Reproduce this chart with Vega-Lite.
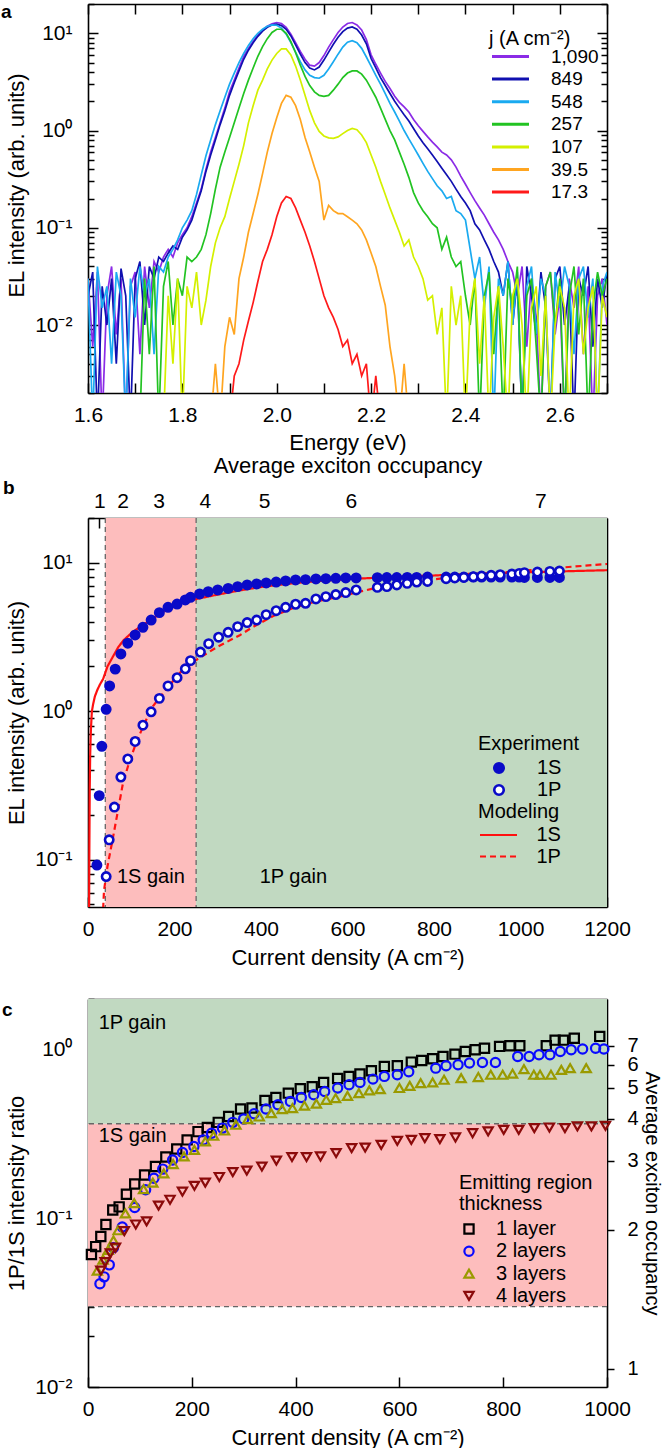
{
"$schema": "https://vega.github.io/schema/vega-lite/v6.json",
"padding": {"left": 1, "top": 2, "right": 4, "bottom": 0},
"background": "white",
"config": {
 "font": "Liberation Sans, Arial, sans-serif",
 "view": {"stroke": null},
 "axis": {"labelFont": "Liberation Sans, Arial, sans-serif", "titleFont": "Liberation Sans, Arial, sans-serif", "labelFontSize": 21, "titleFontSize": 22, "titleFontWeight": "normal", "labelColor": "#000", "titleColor": "#000", "tickColor": "#000", "domainColor": "#000", "domainWidth": 1.6, "tickWidth": 1.5, "grid": false, "zindex": 1, "labelOverlap": false, "labelFlush": false},
 "legend": {"labelFont": "Liberation Sans, Arial, sans-serif", "titleFont": "Liberation Sans, Arial, sans-serif", "labelFontSize": 19, "titleFontSize": 20, "titleFontWeight": "normal", "labelColor": "#000", "titleColor": "#000", "padding": 0}
},
"bounds": "flush",
"spacing": 125,
"resolve": {"scale": {"color": "independent", "fill": "independent", "shape": "independent", "strokeDash": "independent", "x": "independent", "y": "independent"}},
"vconcat": [
{
 "width": 519, "height": 389,
 "title": {"text": "a", "anchor": "start", "frame": "group", "orient": "top", "offset": 0, "fontSize": 19, "fontWeight": "bold", "dx": -87, "dy": 18.5, "baseline": "top", "color": "#000", "font": "Liberation Sans, Arial, sans-serif"},
 "resolve": {"axis": {"x": "independent", "y": "independent"}},
 "layer": [
  {
   "data": {"values": [
{"e":1.60,"p":0.03,"n":0.02,"l":0.03},
{"e":1.61,"p":0.006,"n":0.035,"l":0.001},
{"e":1.62,"p":0.035,"n":0.001,"l":0.04},
{"e":1.63,"p":0.001,"n":0.025,"l":0.015},
{"e":1.64,"p":0.02,"n":0.01,"l":0.025},
{"e":1.65,"p":0.04,"n":0.03,"l":0.004},
{"e":1.66,"p":0.008,"n":0.004,"l":0.035},
{"e":1.67,"p":0.03,"n":0.038,"l":0.02},
{"e":1.68,"p":0.001,"n":0.02,"l":0.001},
{"e":1.69,"p":0.025,"n":0.001,"l":0.03},
{"e":1.70,"p":0.035,"n":0.03,"l":0.012},
{"e":1.71,"p":0.005,"n":0.045,"l":0.04,"g":0.001},
{"e":1.72,"p":0.04,"n":0.01,"l":0.02,"g":0.03},
{"e":1.73,"p":0.015,"n":0.04,"l":0.03,"g":0.005},
{"e":1.74,"p":0.045,"n":0.03,"l":0.005,"g":0.04},
{"e":1.75,"p":0.035,"n":0.05,"l":0.04,"g":0.001},
{"e":1.76,"p":0.05,"n":0.045,"l":0.035,"g":0.025,"y":0.001},
{"e":1.77,"p":0.06,"n":0.055,"l":0.05,"g":0.045,"y":0.02},
{"e":1.78,"p":0.05,"n":0.065,"l":0.06,"g":0.01,"y":0.004},
{"e":1.79,"p":0.07,"n":0.06,"l":0.075,"g":0.03,"y":0.03},
{"e":1.80,"p":0.085,"n":0.08,"l":0.1,"g":0.02,"y":0.001},
{"e":1.81,"p":0.1,"n":0.095,"l":0.12,"g":0.05,"y":0.025},
{"e":1.82,"p":0.13,"n":0.12,"l":0.15,"g":0.045,"y":0.015},
{"e":1.83,"p":0.18,"n":0.17,"l":0.22,"g":0.05,"y":0.035},
{"e":1.84,"p":0.25,"n":0.24,"l":0.35,"g":0.06,"y":0.01},
{"e":1.85,"p":0.4,"n":0.38,"l":0.55,"g":0.085,"y":0.018},
{"e":1.86,"p":0.6,"n":0.56,"l":0.8,"g":0.14,"y":0.04,"o":0.001},
{"e":1.87,"p":0.85,"n":0.8,"l":1.15,"g":0.25,"y":0.07,"o":0.004},
{"e":1.88,"p":1.2,"n":1.15,"l":1.6,"g":0.42,"y":0.1,"o":0.001},
{"e":1.89,"p":1.7,"n":1.6,"l":2.2,"g":0.6,"y":0.13,"o":0.006},
{"e":1.90,"p":2.5,"n":2.3,"l":3.0,"g":0.85,"y":0.2,"o":0.012,"r":0.001},
{"e":1.91,"p":3.3,"n":3.1,"l":3.9,"g":1.2,"y":0.3,"o":0.008,"r":0.003},
{"e":1.92,"p":4.4,"n":4.1,"l":5.0,"g":1.7,"y":0.45,"o":0.03,"r":0.004},
{"e":1.93,"p":5.8,"n":5.4,"l":6.2,"g":2.4,"y":0.7,"o":0.05,"r":0.007},
{"e":1.94,"p":7.0,"n":6.7,"l":7.5,"g":3.3,"y":1.2,"o":0.09,"r":0.011},
{"e":1.95,"p":8.3,"n":8.0,"l":8.8,"g":4.4,"y":1.8,"o":0.14,"r":0.017},
{"e":1.96,"p":9.6,"n":9.3,"l":10.0,"g":5.8,"y":2.6,"o":0.22,"r":0.028},
{"e":1.97,"p":10.8,"n":10.5,"l":11.0,"g":7.3,"y":3.3,"o":0.36,"r":0.045},
{"e":1.98,"p":11.8,"n":11.5,"l":11.8,"g":8.8,"y":4.3,"o":0.6,"r":0.06},
{"e":1.99,"p":12.5,"n":12.2,"l":12.2,"g":10.2,"y":5.3,"o":0.93,"r":0.085},
{"e":2.00,"p":12.9,"n":12.4,"l":12.1,"g":11.0,"y":6.2,"o":1.35,"r":0.13},
{"e":2.01,"p":12.6,"n":12.0,"l":11.3,"g":11.0,"y":6.9,"o":1.9,"r":0.18},
{"e":2.02,"p":11.5,"n":11.0,"l":9.8,"g":10.0,"y":6.9,"o":2.3,"r":0.21},
{"e":2.03,"p":9.8,"n":9.4,"l":8.0,"g":8.2,"y":6.0,"o":2.2,"r":0.2},
{"e":2.04,"p":8.0,"n":7.6,"l":6.4,"g":6.3,"y":4.6,"o":1.8,"r":0.16},
{"e":2.05,"p":6.5,"n":6.1,"l":5.1,"g":4.7,"y":3.3,"o":1.3,"r":0.12},
{"e":2.06,"p":5.4,"n":5.0,"l":4.2,"g":3.6,"y":2.3,"o":0.85,"r":0.09},
{"e":2.07,"p":4.7,"n":4.4,"l":3.7,"g":2.9,"y":1.6,"o":0.6,"r":0.065},
{"e":2.08,"p":4.6,"n":4.2,"l":3.5,"g":2.5,"y":1.2,"o":0.42,"r":0.045},
{"e":2.09,"p":5.0,"n":4.5,"l":3.45,"g":2.3,"y":0.98,"o":0.3,"r":0.03},
{"e":2.10,"p":5.9,"n":5.3,"l":3.7,"g":2.25,"y":0.88,"o":0.12,"r":0.02},
{"e":2.11,"p":7.2,"n":6.4,"l":4.3,"g":2.3,"y":0.84,"o":0.17,"r":0.015},
{"e":2.12,"p":8.6,"n":7.7,"l":5.1,"g":2.6,"y":0.83,"o":0.15,"r":0.012},
{"e":2.13,"p":10.2,"n":9.1,"l":6.1,"g":3.0,"y":0.86,"o":0.14,"r":0.009},
{"e":2.14,"p":11.6,"n":10.4,"l":7.2,"g":3.5,"y":0.93,"o":0.14,"r":0.006},
{"e":2.15,"p":12.6,"n":11.3,"l":8.1,"g":3.9,"y":1.0,"o":0.13,"r":0.007},
{"e":2.16,"p":12.9,"n":11.6,"l":8.4,"g":4.1,"y":1.05,"o":0.12,"r":0.004},
{"e":2.17,"p":12.2,"n":11.0,"l":8.0,"g":4.1,"y":1.02,"o":0.11,"r":0.005},
{"e":2.18,"p":10.8,"n":9.6,"l":7.0,"g":3.8,"y":0.9,"o":0.095,"r":0.003},
{"e":2.19,"p":8.6,"n":7.8,"l":5.7,"g":3.3,"y":0.75,"o":0.075,"r":0.004},
{"e":2.20,"p":6.0,"n":5.5,"l":4.6,"g":2.7,"y":0.56,"o":0.055,"r":0.001},
{"e":2.21,"p":4.8,"n":4.4,"l":3.7,"g":2.2,"y":0.42,"o":0.04,"r":0.003},
{"e":2.22,"p":3.9,"n":3.5,"l":3.0,"g":1.7,"y":0.3,"o":0.025,"r":0.001},
{"e":2.23,"p":3.2,"n":2.9,"l":2.4,"g":1.3,"y":0.22,"o":0.016,"r":0.001},
{"e":2.24,"p":2.7,"n":2.4,"l":1.9,"g":1.0,"y":0.16,"o":0.006},
{"e":2.25,"p":2.25,"n":2.0,"l":1.55,"g":0.8,"y":0.12,"o":0.003},
{"e":2.26,"p":1.95,"n":1.7,"l":1.25,"g":0.6,"y":0.09,"o":0.001},
{"e":2.27,"p":1.75,"n":1.45,"l":1.0,"g":0.45,"y":0.065,"o":0.004},
{"e":2.28,"p":1.55,"n":1.25,"l":0.82,"g":0.33,"y":0.075,"o":0.001},
{"e":2.29,"p":1.3,"n":1.05,"l":0.68,"g":0.23,"y":0.05,"o":0.001},
{"e":2.30,"p":1.12,"n":0.88,"l":0.56,"g":0.18,"y":0.04},
{"e":2.31,"p":0.98,"n":0.75,"l":0.46,"g":0.15,"y":0.03},
{"e":2.32,"p":0.86,"n":0.65,"l":0.38,"g":0.13,"y":0.018},
{"e":2.33,"p":0.76,"n":0.56,"l":0.32,"g":0.11,"y":0.02},
{"e":2.34,"p":0.68,"n":0.48,"l":0.27,"g":0.1,"y":0.008},
{"e":2.35,"p":0.6,"n":0.41,"l":0.24,"g":0.06,"y":0.015},
{"e":2.36,"p":0.56,"n":0.35,"l":0.2,"g":0.08,"y":0.001},
{"e":2.37,"p":0.5,"n":0.3,"l":0.21,"g":0.05,"y":0.025},
{"e":2.38,"p":0.42,"n":0.25,"l":0.15,"g":0.04,"y":0.01},
{"e":2.39,"p":0.34,"n":0.21,"l":0.14,"g":0.045,"y":0.02},
{"e":2.40,"p":0.28,"n":0.18,"l":0.12,"g":0.02,"y":0.001},
{"e":2.41,"p":0.23,"n":0.15,"l":0.06,"g":0.01,"y":0.015},
{"e":2.42,"p":0.19,"n":0.11,"l":0.03,"g":0.03,"y":0.03},
{"e":2.43,"p":0.16,"n":0.095,"l":0.05,"g":0.001,"y":0.004},
{"e":2.44,"p":0.135,"n":0.075,"l":0.015,"g":0.02,"y":0.02},
{"e":2.45,"p":0.11,"n":0.06,"l":0.04,"g":0.035,"y":0.001},
{"e":2.46,"p":0.09,"n":0.045,"l":0.001,"g":0.005,"y":0.012},
{"e":2.47,"p":0.075,"n":0.035,"l":0.03,"g":0.025,"y":0.025},
{"e":2.48,"p":0.06,"n":0.02,"l":0.02,"g":0.001,"y":0.006},
{"e":2.49,"p":0.045,"n":0.045,"l":0.045,"g":0.03,"y":0.001},
{"e":2.50,"p":0.035,"n":0.01,"l":0.01,"g":0.015,"y":0.02},
{"e":2.51,"p":0.02,"n":0.03,"l":0.035,"g":0.04,"y":0.03},
{"e":2.52,"p":0.04,"n":0.001,"l":0.001,"g":0.001,"y":0.01},
{"e":2.53,"p":0.006,"n":0.04,"l":0.025,"g":0.02,"y":0.001},
{"e":2.54,"p":0.03,"n":0.02,"l":0.04,"g":0.03,"y":0.015},
{"e":2.55,"p":0.012,"n":0.008,"l":0.008,"g":0.006,"y":0.025},
{"e":2.56,"p":0.001,"n":0.035,"l":0.03,"g":0.001,"y":0.003},
{"e":2.57,"p":0.025,"n":0.015,"l":0.02,"g":0.025,"y":0.02},
{"e":2.58,"p":0.035,"n":0.001,"l":0.001,"g":0.035,"y":0.001},
{"e":2.59,"p":0.008,"n":0.03,"l":0.035,"g":0.01,"y":0.01},
{"e":2.60,"p":0.02,"n":0.04,"l":0.015,"g":0.03,"y":0.025},
{"e":2.61,"p":0.001,"n":0.01,"l":0.04,"g":0.001,"y":0.015},
{"e":2.62,"p":0.03,"n":0.025,"l":0.025,"g":0.02,"y":0.001},
{"e":2.63,"p":0.015,"n":0.001,"l":0.005,"g":0.04,"y":0.02},
{"e":2.64,"p":0.04,"n":0.03,"l":0.03,"g":0.008,"y":0.03},
{"e":2.65,"p":0.005,"n":0.02,"l":0.04,"g":0.03,"y":0.005},
{"e":2.66,"p":0.025,"n":0.04,"l":0.012,"g":0.001,"y":0.015},
{"e":2.67,"p":0.001,"n":0.006,"l":0.03,"g":0.015,"y":0.025},
{"e":2.68,"p":0.02,"n":0.03,"l":0.001,"g":0.035,"y":0.001},
{"e":2.69,"p":0.03,"n":0.015,"l":0.025,"g":0.02,"y":0.02},
{"e":2.70,"p":0.01,"n":0.035,"l":0.035,"g":0.03,"y":0.012}
   ]},
   "transform": [{"fold": ["p","n","l","g","y","o","r"], "as": ["s","v"]}],
   "mark": {"type": "line", "strokeWidth": 1.7, "clip": true},
   "encoding": {
    "x": {"field": "e", "type": "quantitative", "scale": {"domain": [1.6, 2.7], "nice": false, "zero": false},
          "axis": {"orient": "bottom", "values": [1.6,1.7,1.8,1.9,2.0,2.1,2.2,2.3,2.4,2.5,2.6,2.7], "labelExpr": "round(datum.value*10) % 2 == 0 ? format(datum.value, '.1f') : ''", "tickSize": -10, "labelPadding": 21, "title": "Energy (eV)", "titlePadding": 7}},
    "y": {"field": "v", "type": "quantitative", "scale": {"type": "log", "domain": [0.002, 20], "nice": false},
          "axis": {"orient": "left", "values": [0.01,0.1,1,10], "labelExpr": "datum.value >= 5 ? '10¹' : datum.value >= 0.5 ? '10⁰' : datum.value >= 0.05 ? '10⁻¹' : '10⁻²'", "tickSize": -10, "labelPadding": 26, "title": "EL intensity (arb. units)", "titlePadding": 6, "titleY": 181}},
    "color": {"field": "s", "type": "nominal",
              "scale": {"domain": ["p","n","l","g","y","o","r"], "range": ["#8b2be6","#1010b0","#1aaaf0","#22c322","#d4f000","#ffa520","#ff1a1a"]},
              "legend": {"title": "j (A cm⁻²)", "orient": "none", "legendX": 401, "legendY": 25, "symbolType": "M-3.7,0H3.7", "symbolSize": 100, "symbolStrokeWidth": 3, "symbolOffset": 12, "labelOffset": 31, "rowPadding": 2.6, "titlePadding": -2,
                         "labelExpr": "['1,090','849','548','257','107','39.5','17.3'][indexof(['p','n','l','g','y','o','r'], datum.value)]"}}
   }
  },
  {
   "data": {"values": [{"e": 2.0, "v": 1}]},
   "mark": {"type": "point", "opacity": 0},
   "encoding": {
    "x": {"field": "e", "type": "quantitative", "scale": {"domain": [1.6, 2.7], "nice": false, "zero": false},
          "axis": {"orient": "top", "values": [1.6,1.7,1.8,1.9,2.0,2.1,2.2,2.3,2.4,2.5,2.6,2.7], "labels": false, "tickSize": -10, "title": null}},
    "y": {"field": "v", "type": "quantitative", "scale": {"type": "log", "domain": [0.002, 20], "nice": false},
          "axis": {"orient": "right", "values": [0.01,0.1,1,10], "labels": false, "tickSize": -10, "title": null}}
   }
  },
  {
   "data": {"values": [{"e": 2.0, "v": 1}]},
   "mark": {"type": "point", "opacity": 0},
   "encoding": {
    "x": {"field": "e", "type": "quantitative", "scale": {"domain": [1.6, 2.7], "nice": false, "zero": false}, "axis": null},
    "y": {"field": "v", "type": "quantitative", "scale": {"type": "log", "domain": [0.002, 20], "nice": false},
          "axis": {"orient": "left", "values": [0.002,0.003,0.004,0.005,0.006,0.007,0.008,0.009,0.02,0.03,0.04,0.05,0.06,0.07,0.08,0.09,0.2,0.3,0.4,0.5,0.6,0.7,0.8,0.9,2,3,4,5,6,7,8,9,20], "labels": false, "domain": false, "tickSize": -6, "title": null}}
   }
  },
  {
   "data": {"values": [{"e": 2.0, "v": 1}]},
   "mark": {"type": "point", "opacity": 0},
   "encoding": {
    "x": {"field": "e", "type": "quantitative", "scale": {"domain": [1.6, 2.7], "nice": false, "zero": false}, "axis": null},
    "y": {"field": "v", "type": "quantitative", "scale": {"type": "log", "domain": [0.002, 20], "nice": false},
          "axis": {"orient": "right", "values": [0.002,0.003,0.004,0.005,0.006,0.007,0.008,0.009,0.02,0.03,0.04,0.05,0.06,0.07,0.08,0.09,0.2,0.3,0.4,0.5,0.6,0.7,0.8,0.9,2,3,4,5,6,7,8,9,20], "labels": false, "domain": false, "tickSize": -6, "title": null}}
   }
  }
 ]
},
{
 "bounds": "flush",
 "spacing": 92,
 "resolve": {"scale": {"color": "independent", "fill": "independent", "shape": "independent", "strokeDash": "independent", "x": "independent", "y": "independent"}},
 "vconcat": [
 {
  "width": 519, "height": 389,
  "title": {"text": "b", "anchor": "start", "frame": "group", "orient": "top", "offset": 0, "fontSize": 19, "fontWeight": "bold", "dx": -85, "dy": 44, "baseline": "top", "color": "#000", "font": "Liberation Sans, Arial, sans-serif"},
  "resolve": {"axis": {"x": "independent", "y": "independent"}},
  "layer": [
   {
    "data": {"values": [{"a": 40, "b": 250, "z": "s"}, {"a": 250, "b": 1200, "z": "p"}]},
    "mark": {"type": "rect"},
    "encoding": {
     "x": {"field": "a", "type": "quantitative", "scale": {"domain": [0, 1200], "nice": false, "zero": false}, "axis": null},
     "x2": {"field": "b"},
     "color": {"field": "z", "type": "nominal", "scale": {"domain": ["s","p"], "range": ["#fdbdbd","#c1d9c1"]}, "legend": null}
    }
   },
   {
    "data": {"values": [{"a": 40}, {"a": 250}]},
    "mark": {"type": "rule", "color": "#666", "strokeWidth": 1.3, "strokeDash": [5, 4]},
    "encoding": {
     "x": {"field": "a", "type": "quantitative", "scale": {"domain": [0, 1200], "nice": false, "zero": false}, "axis": null}
    }
   },
   {
    "data": {"values": [
{"J":2.5,"m":0.04,"k":"M1S"},{"J":3,"m":0.1,"k":"M1S"},{"J":4,"m":0.3,"k":"M1S"},{"J":5,"m":0.5,"k":"M1S"},{"J":6,"m":0.65,"k":"M1S"},{"J":7,"m":0.78,"k":"M1S"},{"J":9,"m":1.0,"k":"M1S"},{"J":12,"m":1.12,"k":"M1S"},{"J":16,"m":1.26,"k":"M1S"},{"J":22,"m":1.4,"k":"M1S"},{"J":28,"m":1.52,"k":"M1S"},{"J":35,"m":1.65,"k":"M1S"},{"J":45,"m":2.0,"k":"M1S"},{"J":58,"m":2.34,"k":"M1S"},{"J":70,"m":2.7,"k":"M1S"},{"J":82,"m":3.0,"k":"M1S"},{"J":100,"m":3.35,"k":"M1S"},{"J":120,"m":3.7,"k":"M1S"},{"J":146,"m":4.13,"k":"M1S"},{"J":175,"m":4.7,"k":"M1S"},{"J":213,"m":5.3,"k":"M1S"},{"J":251,"m":5.7,"k":"M1S"},{"J":300,"m":6.1,"k":"M1S"},{"J":350,"m":6.5,"k":"M1S"},{"J":405,"m":6.9,"k":"M1S"},{"J":500,"m":7.4,"k":"M1S"},{"J":600,"m":7.75,"k":"M1S"},{"J":700,"m":8.0,"k":"M1S"},{"J":800,"m":8.2,"k":"M1S"},{"J":900,"m":8.45,"k":"M1S"},{"J":1000,"m":8.6,"k":"M1S"},{"J":1100,"m":8.75,"k":"M1S"},{"J":1200,"m":8.9,"k":"M1S"},
{"J":34,"m":0.04,"k":"M1P"},{"J":37,"m":0.062,"k":"M1P"},{"J":45,"m":0.09,"k":"M1P"},{"J":57,"m":0.137,"k":"M1P"},{"J":70,"m":0.22,"k":"M1P"},{"J":81,"m":0.33,"k":"M1P"},{"J":95,"m":0.45,"k":"M1P"},{"J":111,"m":0.61,"k":"M1P"},{"J":130,"m":0.82,"k":"M1P"},{"J":150,"m":1.08,"k":"M1P"},{"J":170,"m":1.28,"k":"M1P"},{"J":189,"m":1.5,"k":"M1P"},{"J":213,"m":1.82,"k":"M1P"},{"J":251,"m":2.22,"k":"M1P"},{"J":300,"m":2.72,"k":"M1P"},{"J":351,"m":3.25,"k":"M1P"},{"J":382,"m":3.7,"k":"M1P"},{"J":430,"m":4.4,"k":"M1P"},{"J":483,"m":5.06,"k":"M1P"},{"J":530,"m":5.5,"k":"M1P"},{"J":581,"m":5.9,"k":"M1P"},{"J":630,"m":6.4,"k":"M1P"},{"J":679,"m":6.9,"k":"M1P"},{"J":730,"m":7.3,"k":"M1P"},{"J":777,"m":7.6,"k":"M1P"},{"J":830,"m":7.9,"k":"M1P"},{"J":875,"m":8.2,"k":"M1P"},{"J":950,"m":8.55,"k":"M1P"},{"J":1022,"m":8.9,"k":"M1P"},{"J":1100,"m":9.3,"k":"M1P"},{"J":1200,"m":9.8,"k":"M1P"}
    ]},
    "mark": {"type": "line", "color": "#ff1010", "strokeWidth": 2.2, "clip": true},
    "encoding": {
     "x": {"field": "J", "type": "quantitative", "scale": {"domain": [0, 1200], "nice": false, "zero": false}, "axis": null},
     "y": {"field": "m", "type": "quantitative", "scale": {"type": "log", "domain": [0.048, 20], "nice": false}, "axis": null},
     "strokeDash": {"field": "k", "type": "nominal", "scale": {"domain": ["M1S","M1P"], "range": [[1,0],[6,4]]},
                    "legend": {"title": "Modeling", "orient": "none", "legendX": 390, "legendY": 284, "symbolType": "M-3.7,0H3.7", "symbolSize": 100, "symbolStrokeWidth": 2.2, "symbolStrokeColor": "#ff1010", "symbolOffset": 10.5, "labelOffset": 28, "rowPadding": 1.5, "titlePadding": 3, "labelFontSize": 20, "labelExpr": "substring(datum.value, 1)"}}
    }
   },
   {
    "data": {"values": [
{"J":20.6,"v":0.092,"s":"1S"},{"J":26,"v":0.27,"s":"1S"},{"J":32,"v":0.58,"s":"1S"},{"J":42,"v":1.03,"s":"1S"},{"J":50,"v":1.48,"s":"1S"},{"J":63,"v":1.92,"s":"1S"},{"J":76,"v":2.43,"s":"1S"},{"J":92,"v":2.87,"s":"1S"},{"J":109,"v":3.26,"s":"1S"},{"J":127,"v":3.67,"s":"1S"},{"J":146,"v":4.11,"s":"1S"},{"J":165,"v":4.61,"s":"1S"},{"J":185,"v":5.01,"s":"1S"},{"J":206,"v":5.27,"s":"1S"},{"J":225,"v":5.61,"s":"1S"},{"J":237,"v":5.85,"s":"1S"},{"J":258,"v":6.16,"s":"1S"},{"J":278,"v":6.38,"s":"1S"},{"J":300,"v":6.55,"s":"1S"},{"J":324,"v":6.71,"s":"1S"},{"J":346,"v":6.9,"s":"1S"},{"J":368,"v":7.08,"s":"1S"},{"J":390,"v":7.19,"s":"1S"},{"J":412,"v":7.3,"s":"1S"},{"J":435,"v":7.41,"s":"1S"},{"J":457,"v":7.53,"s":"1S"},{"J":480,"v":7.65,"s":"1S"},{"J":503,"v":7.69,"s":"1S"},{"J":527,"v":7.77,"s":"1S"},{"J":550,"v":7.8,"s":"1S"},{"J":573,"v":7.85,"s":"1S"},{"J":596,"v":7.89,"s":"1S"},{"J":620,"v":7.89,"s":"1S"},{"J":669,"v":7.92,"s":"1S"},{"J":691,"v":7.94,"s":"1S"},{"J":714,"v":7.94,"s":"1S"},{"J":738,"v":7.96,"s":"1S"},{"J":760,"v":7.96,"s":"1S"},{"J":785,"v":8.0,"s":"1S"},{"J":828,"v":8.0,"s":"1S"},{"J":848,"v":8.0,"s":"1S"},{"J":869,"v":8.0,"s":"1S"},{"J":891,"v":8.0,"s":"1S"},{"J":910,"v":8.0,"s":"1S"},{"J":932,"v":8.0,"s":"1S"},{"J":953,"v":8.0,"s":"1S"},{"J":980,"v":8.0,"s":"1S"},{"J":997,"v":8.0,"s":"1S"},{"J":1009,"v":7.96,"s":"1S"},{"J":1039,"v":7.96,"s":"1S"},{"J":1068,"v":7.96,"s":"1S"},{"J":1090,"v":7.96,"s":"1S"},
{"J":42,"v":0.077,"s":"1P"},{"J":49,"v":0.136,"s":"1P"},{"J":61,"v":0.226,"s":"1P"},{"J":76,"v":0.36,"s":"1P"},{"J":92,"v":0.477,"s":"1P"},{"J":109,"v":0.625,"s":"1P"},{"J":127,"v":0.805,"s":"1P"},{"J":146,"v":0.99,"s":"1P"},{"J":165,"v":1.22,"s":"1P"},{"J":185,"v":1.48,"s":"1P"},{"J":206,"v":1.68,"s":"1P"},{"J":225,"v":1.93,"s":"1P"},{"J":237,"v":2.19,"s":"1P"},{"J":260,"v":2.5,"s":"1P"},{"J":279,"v":2.85,"s":"1P"},{"J":302,"v":3.15,"s":"1P"},{"J":324,"v":3.4,"s":"1P"},{"J":346,"v":3.71,"s":"1P"},{"J":368,"v":3.95,"s":"1P"},{"J":390,"v":4.11,"s":"1P"},{"J":412,"v":4.47,"s":"1P"},{"J":435,"v":4.75,"s":"1P"},{"J":457,"v":5.01,"s":"1P"},{"J":480,"v":5.25,"s":"1P"},{"J":503,"v":5.33,"s":"1P"},{"J":527,"v":5.7,"s":"1P"},{"J":550,"v":5.91,"s":"1P"},{"J":573,"v":6.1,"s":"1P"},{"J":596,"v":6.29,"s":"1P"},{"J":620,"v":6.55,"s":"1P"},{"J":669,"v":6.82,"s":"1P"},{"J":691,"v":6.9,"s":"1P"},{"J":714,"v":7.08,"s":"1P"},{"J":738,"v":7.26,"s":"1P"},{"J":760,"v":7.41,"s":"1P"},{"J":785,"v":7.48,"s":"1P"},{"J":828,"v":7.8,"s":"1P"},{"J":848,"v":7.89,"s":"1P"},{"J":869,"v":7.96,"s":"1P"},{"J":891,"v":8.05,"s":"1P"},{"J":910,"v":8.13,"s":"1P"},{"J":932,"v":8.22,"s":"1P"},{"J":953,"v":8.3,"s":"1P"},{"J":980,"v":8.39,"s":"1P"},{"J":997,"v":8.47,"s":"1P"},{"J":1009,"v":8.57,"s":"1P"},{"J":1039,"v":8.65,"s":"1P"},{"J":1068,"v":8.74,"s":"1P"},{"J":1090,"v":8.79,"s":"1P"}
    ]},
    "mark": {"type": "point", "filled": true, "stroke": "#0a0ac8", "strokeWidth": 2.6, "size": 70, "opacity": 1},
    "encoding": {
     "x": {"field": "J", "type": "quantitative", "scale": {"domain": [0, 1200], "nice": false, "zero": false},
           "axis": {"orient": "bottom", "values": [0,200,400,600,800,1000,1200], "format": "d", "tickSize": -10, "labelPadding": 21, "title": "Current density (A cm⁻²)", "titlePadding": 8}},
     "y": {"field": "v", "type": "quantitative", "scale": {"type": "log", "domain": [0.048, 20], "nice": false},
           "axis": {"orient": "left", "values": [0.1,1,10], "labelExpr": "datum.value >= 5 ? '10¹' : datum.value >= 0.5 ? '10⁰' : datum.value >= 0.05 ? '10⁻¹' : '10⁻²'", "tickSize": -11, "labelPadding": 27, "title": "EL intensity (arb. units)", "titlePadding": 6}},
     "fill": {"field": "s", "type": "nominal", "scale": {"domain": ["1S","1P"], "range": ["#0a0ac8","#ffffff"]},
              "legend": {"title": "Experiment", "orient": "none", "legendX": 390, "legendY": 216, "symbolType": "circle", "symbolSize": 90, "symbolStrokeColor": "#0a0ac8", "symbolStrokeWidth": 2.6, "symbolOffset": 11, "labelOffset": 28, "rowPadding": 2, "titlePadding": 4, "labelFontSize": 20}}
    }
   },
   {
    "data": {"values": [{"J": 67, "v": 0.077, "t": "1S gain"}, {"J": 397, "v": 0.077, "t": "1P gain"}]},
    "mark": {"type": "text", "align": "left", "baseline": "middle", "fontSize": 20, "color": "#000"},
    "encoding": {
     "x": {"field": "J", "type": "quantitative", "scale": {"domain": [0, 1200], "nice": false, "zero": false}, "axis": null},
     "y": {"field": "v", "type": "quantitative", "scale": {"type": "log", "domain": [0.048, 20], "nice": false}, "axis": null},
     "text": {"field": "t"}
    }
   },
   {
    "data": {"values": [{"J": 500, "v": 1}]},
    "mark": {"type": "point", "opacity": 0},
    "encoding": {
     "x": {"field": "J", "type": "quantitative", "scale": {"domain": [0, 1200], "nice": false, "zero": false},
           "axis": {"orient": "top", "values": [26,80,163,270,407,608,1046], "labelExpr": "indexof([26,80,163,270,407,608,1046], datum.value) + 1 + ''", "tickSize": -10, "labelPadding": 17, "title": "Average exciton occupancy", "titlePadding": 13}},
     "y": {"field": "v", "type": "quantitative", "scale": {"type": "log", "domain": [0.048, 20], "nice": false},
           "axis": {"orient": "right", "ticks": false, "labels": false, "title": null}}
    }
   },
   {
    "data": {"values": [{"J": 500, "v": 1}]},
    "mark": {"type": "point", "opacity": 0},
    "encoding": {
     "x": {"field": "J", "type": "quantitative", "scale": {"domain": [0, 1200], "nice": false, "zero": false}, "axis": null},
     "y": {"field": "v", "type": "quantitative", "scale": {"type": "log", "domain": [0.048, 20], "nice": false},
           "axis": {"orient": "left", "values": [0.05,0.06,0.07,0.08,0.09,0.2,0.3,0.4,0.5,0.6,0.7,0.8,0.9,2,3,4,5,6,7,8,9,20], "labels": false, "domain": false, "tickSize": -6, "title": null}}
    }
   }
  ]
 },
 {
  "width": 519, "height": 388,
  "title": {"text": "c", "anchor": "start", "frame": "group", "orient": "top", "offset": 0, "fontSize": 19, "fontWeight": "bold", "dx": -86, "dy": 22, "baseline": "top", "color": "#000", "font": "Liberation Sans, Arial, sans-serif"},
  "resolve": {"axis": {"x": "independent", "y": "independent"}},
  "layer": [
   {
    "data": {"values": [{"lo": 0.03, "hi": 0.364, "z": "s"}, {"lo": 0.364, "hi": 2, "z": "p"}]},
    "mark": {"type": "rect"},
    "encoding": {
     "y": {"field": "lo", "type": "quantitative", "scale": {"type": "log", "domain": [0.01, 2], "nice": false}, "axis": null},
     "y2": {"field": "hi"},
     "fill": {"field": "z", "type": "nominal", "scale": {"domain": ["s","p"], "range": ["#fdbdbd","#c1d9c1"]}, "legend": null}
    }
   },
   {
    "data": {"values": [{"lo": 0.03}, {"lo": 0.364}]},
    "mark": {"type": "rule", "color": "#666", "strokeWidth": 1.3, "strokeDash": [5, 4]},
    "encoding": {
     "y": {"field": "lo", "type": "quantitative", "scale": {"type": "log", "domain": [0.01, 2], "nice": false}, "axis": null}
    }
   },
   {
    "data": {"values": [
{"J":6.6,"r":0.061,"l":"1 layer"},{"J":14.8,"r":0.068,"l":"1 layer"},{"J":24.7,"r":0.078,"l":"1 layer"},{"J":34.5,"r":0.092,"l":"1 layer"},{"J":47.7,"r":0.112,"l":"1 layer"},{"J":60,"r":0.117,"l":"1 layer"},{"J":74,"r":0.139,"l":"1 layer"},{"J":90,"r":0.16,"l":"1 layer"},{"J":109,"r":0.181,"l":"1 layer"},{"J":130,"r":0.203,"l":"1 layer"},{"J":150,"r":0.231,"l":"1 layer"},{"J":171,"r":0.258,"l":"1 layer"},{"J":191,"r":0.292,"l":"1 layer"},{"J":212,"r":0.327,"l":"1 layer"},{"J":230,"r":0.346,"l":"1 layer"},{"J":251,"r":0.371,"l":"1 layer"},{"J":271,"r":0.402,"l":"1 layer"},{"J":294,"r":0.445,"l":"1 layer"},{"J":316,"r":0.451,"l":"1 layer"},{"J":341,"r":0.5,"l":"1 layer"},{"J":362,"r":0.521,"l":"1 layer"},{"J":386,"r":0.553,"l":"1 layer"},{"J":409,"r":0.587,"l":"1 layer"},{"J":432,"r":0.603,"l":"1 layer"},{"J":454,"r":0.64,"l":"1 layer"},{"J":481,"r":0.676,"l":"1 layer"},{"J":503,"r":0.695,"l":"1 layer"},{"J":524,"r":0.718,"l":"1 layer"},{"J":546,"r":0.75,"l":"1 layer"},{"J":571,"r":0.796,"l":"1 layer"},{"J":596,"r":0.803,"l":"1 layer"},{"J":623,"r":0.845,"l":"1 layer"},{"J":643,"r":0.864,"l":"1 layer"},{"J":664,"r":0.885,"l":"1 layer"},{"J":684,"r":0.913,"l":"1 layer"},{"J":707,"r":0.942,"l":"1 layer"},{"J":727,"r":0.977,"l":"1 layer"},{"J":746,"r":1.0,"l":"1 layer"},{"J":764,"r":1.02,"l":"1 layer"},{"J":793,"r":1.047,"l":"1 layer"},{"J":813,"r":1.056,"l":"1 layer"},{"J":832,"r":1.056,"l":"1 layer"},{"J":883,"r":1.056,"l":"1 layer"},{"J":900,"r":1.14,"l":"1 layer"},{"J":916,"r":1.14,"l":"1 layer"},{"J":937,"r":1.17,"l":"1 layer"},{"J":986,"r":1.2,"l":"1 layer"},
{"J":23,"r":0.041,"l":"2 layers"},{"J":31,"r":0.045,"l":"2 layers"},{"J":41,"r":0.053,"l":"2 layers"},{"J":49,"r":0.067,"l":"2 layers"},{"J":66,"r":0.089,"l":"2 layers"},{"J":90,"r":0.116,"l":"2 layers"},{"J":111,"r":0.148,"l":"2 layers"},{"J":127,"r":0.173,"l":"2 layers"},{"J":144,"r":0.196,"l":"2 layers"},{"J":163,"r":0.222,"l":"2 layers"},{"J":182,"r":0.246,"l":"2 layers"},{"J":204,"r":0.267,"l":"2 layers"},{"J":222,"r":0.292,"l":"2 layers"},{"J":238,"r":0.32,"l":"2 layers"},{"J":259,"r":0.343,"l":"2 layers"},{"J":279,"r":0.371,"l":"2 layers"},{"J":300,"r":0.389,"l":"2 layers"},{"J":320,"r":0.417,"l":"2 layers"},{"J":343,"r":0.445,"l":"2 layers"},{"J":366,"r":0.472,"l":"2 layers"},{"J":390,"r":0.494,"l":"2 layers"},{"J":411,"r":0.521,"l":"2 layers"},{"J":435,"r":0.541,"l":"2 layers"},{"J":456,"r":0.566,"l":"2 layers"},{"J":481,"r":0.593,"l":"2 layers"},{"J":503,"r":0.62,"l":"2 layers"},{"J":524,"r":0.64,"l":"2 layers"},{"J":549,"r":0.67,"l":"2 layers"},{"J":571,"r":0.695,"l":"2 layers"},{"J":596,"r":0.711,"l":"2 layers"},{"J":618,"r":0.74,"l":"2 layers"},{"J":670,"r":0.778,"l":"2 layers"},{"J":690,"r":0.803,"l":"2 layers"},{"J":713,"r":0.815,"l":"2 layers"},{"J":735,"r":0.834,"l":"2 layers"},{"J":760,"r":0.841,"l":"2 layers"},{"J":785,"r":0.841,"l":"2 layers"},{"J":828,"r":0.913,"l":"2 layers"},{"J":850,"r":0.913,"l":"2 layers"},{"J":869,"r":0.934,"l":"2 layers"},{"J":890,"r":0.934,"l":"2 layers"},{"J":910,"r":0.977,"l":"2 layers"},{"J":931,"r":1.0,"l":"2 layers"},{"J":953,"r":1.01,"l":"2 layers"},{"J":978,"r":1.02,"l":"2 layers"},{"J":994,"r":1.01,"l":"2 layers"},
{"J":18,"r":0.049,"l":"3 layers"},{"J":29,"r":0.057,"l":"3 layers"},{"J":39,"r":0.065,"l":"3 layers"},{"J":49,"r":0.074,"l":"3 layers"},{"J":58,"r":0.085,"l":"3 layers"},{"J":72,"r":0.107,"l":"3 layers"},{"J":89,"r":0.123,"l":"3 layers"},{"J":107,"r":0.149,"l":"3 layers"},{"J":125,"r":0.163,"l":"3 layers"},{"J":146,"r":0.185,"l":"3 layers"},{"J":164,"r":0.21,"l":"3 layers"},{"J":185,"r":0.233,"l":"3 layers"},{"J":205,"r":0.255,"l":"3 layers"},{"J":226,"r":0.286,"l":"3 layers"},{"J":242,"r":0.309,"l":"3 layers"},{"J":263,"r":0.332,"l":"3 layers"},{"J":285,"r":0.359,"l":"3 layers"},{"J":308,"r":0.388,"l":"3 layers"},{"J":330,"r":0.402,"l":"3 layers"},{"J":353,"r":0.421,"l":"3 layers"},{"J":374,"r":0.445,"l":"3 layers"},{"J":394,"r":0.451,"l":"3 layers"},{"J":417,"r":0.466,"l":"3 layers"},{"J":440,"r":0.479,"l":"3 layers"},{"J":459,"r":0.505,"l":"3 layers"},{"J":477,"r":0.516,"l":"3 layers"},{"J":500,"r":0.533,"l":"3 layers"},{"J":522,"r":0.553,"l":"3 layers"},{"J":542,"r":0.574,"l":"3 layers"},{"J":563,"r":0.584,"l":"3 layers"},{"J":600,"r":0.593,"l":"3 layers"},{"J":620,"r":0.611,"l":"3 layers"},{"J":641,"r":0.634,"l":"3 layers"},{"J":664,"r":0.64,"l":"3 layers"},{"J":686,"r":0.664,"l":"3 layers"},{"J":719,"r":0.679,"l":"3 layers"},{"J":752,"r":0.689,"l":"3 layers"},{"J":776,"r":0.711,"l":"3 layers"},{"J":799,"r":0.711,"l":"3 layers"},{"J":818,"r":0.721,"l":"3 layers"},{"J":840,"r":0.768,"l":"3 layers"},{"J":859,"r":0.711,"l":"3 layers"},{"J":871,"r":0.711,"l":"3 layers"},{"J":892,"r":0.711,"l":"3 layers"},{"J":912,"r":0.76,"l":"3 layers"},{"J":929,"r":0.778,"l":"3 layers"},{"J":960,"r":0.778,"l":"3 layers"},
{"J":24.7,"r":0.049,"l":"4 layers"},{"J":33,"r":0.055,"l":"4 layers"},{"J":43,"r":0.062,"l":"4 layers"},{"J":53,"r":0.067,"l":"4 layers"},{"J":70,"r":0.084,"l":"4 layers"},{"J":92,"r":0.092,"l":"4 layers"},{"J":113,"r":0.096,"l":"4 layers"},{"J":136,"r":0.119,"l":"4 layers"},{"J":158,"r":0.129,"l":"4 layers"},{"J":182,"r":0.144,"l":"4 layers"},{"J":205,"r":0.156,"l":"4 layers"},{"J":226,"r":0.163,"l":"4 layers"},{"J":253,"r":0.176,"l":"4 layers"},{"J":279,"r":0.188,"l":"4 layers"},{"J":306,"r":0.192,"l":"4 layers"},{"J":335,"r":0.203,"l":"4 layers"},{"J":363,"r":0.22,"l":"4 layers"},{"J":393,"r":0.231,"l":"4 layers"},{"J":421,"r":0.231,"l":"4 layers"},{"J":448,"r":0.233,"l":"4 layers"},{"J":478,"r":0.244,"l":"4 layers"},{"J":508,"r":0.261,"l":"4 layers"},{"J":534,"r":0.263,"l":"4 layers"},{"J":565,"r":0.273,"l":"4 layers"},{"J":596,"r":0.288,"l":"4 layers"},{"J":623,"r":0.292,"l":"4 layers"},{"J":649,"r":0.299,"l":"4 layers"},{"J":678,"r":0.295,"l":"4 layers"},{"J":708,"r":0.302,"l":"4 layers"},{"J":741,"r":0.32,"l":"4 layers"},{"J":771,"r":0.328,"l":"4 layers"},{"J":801,"r":0.335,"l":"4 layers"},{"J":830,"r":0.335,"l":"4 layers"},{"J":860,"r":0.343,"l":"4 layers"},{"J":889,"r":0.346,"l":"4 layers"},{"J":919,"r":0.343,"l":"4 layers"},{"J":943,"r":0.351,"l":"4 layers"},{"J":970,"r":0.351,"l":"4 layers"},{"J":997,"r":0.354,"l":"4 layers"}
    ]},
    "mark": {"type": "point", "filled": false, "strokeWidth": 2.2, "size": 85, "opacity": 1},
    "encoding": {
     "x": {"field": "J", "type": "quantitative", "scale": {"domain": [0, 1000], "nice": false, "zero": false},
           "axis": {"orient": "bottom", "values": [0,200,400,600,800,1000], "format": "d", "tickSize": -10, "labelPadding": 21, "title": "Current density (A cm⁻²)", "titlePadding": 8}},
     "y": {"field": "r", "type": "quantitative", "scale": {"type": "log", "domain": [0.01, 2], "nice": false},
           "axis": {"orient": "left", "values": [0.01,0.1,1], "labelExpr": "datum.value >= 5 ? '10¹' : datum.value >= 0.5 ? '10⁰' : datum.value >= 0.05 ? '10⁻¹' : '10⁻²'", "tickSize": -11, "labelPadding": 27, "title": "1P/1S intensity ratio", "titlePadding": 6}},
     "color": {"field": "l", "type": "nominal", "scale": {"domain": ["1 layer","2 layers","3 layers","4 layers"], "range": ["#000000","#0a0aff","#9a9a00","#8b0a0a"]},
               "legend": {"title": ["Emitting region", "thickness"], "orient": "none", "legendX": 371, "legendY": 174, "symbolSize": 85, "symbolStrokeWidth": 2.2, "symbolOffset": 0, "labelOffset": 17, "rowPadding": 2.3, "titlePadding": 5, "titleLineHeight": 21, "labelFontSize": 20}},
     "shape": {"field": "l", "type": "nominal", "scale": {"domain": ["1 layer","2 layers","3 layers","4 layers"], "range": ["square","circle","triangle-up","triangle-down"]},
               "legend": {"title": ["Emitting region", "thickness"], "orient": "none", "legendX": 371, "legendY": 174, "symbolSize": 85, "symbolStrokeWidth": 2.2, "symbolOffset": 0, "labelOffset": 17, "rowPadding": 2.3, "titlePadding": 5, "titleLineHeight": 21, "labelFontSize": 20}}
    }
   },
   {
    "data": {"values": [{"J": 20.6, "r": 1.45, "t": "1P gain"}, {"J": 20.6, "r": 0.306, "t": "1S gain"}]},
    "mark": {"type": "text", "align": "left", "baseline": "middle", "fontSize": 20, "color": "#000"},
    "encoding": {
     "x": {"field": "J", "type": "quantitative", "scale": {"domain": [0, 1000], "nice": false, "zero": false}, "axis": null},
     "y": {"field": "r", "type": "quantitative", "scale": {"type": "log", "domain": [0.01, 2], "nice": false}, "axis": null},
     "text": {"field": "t"}
    }
   },
   {
    "data": {"values": [{"J": 500, "r": 0.1}]},
    "mark": {"type": "point", "opacity": 0},
    "encoding": {
     "x": {"field": "J", "type": "quantitative", "scale": {"domain": [0, 1000], "nice": false, "zero": false},
           "axis": {"orient": "top", "values": [200,400,600,800], "labels": false, "tickSize": -10, "title": null}},
     "y": {"field": "r", "type": "quantitative", "scale": {"type": "log", "domain": [0.01, 2], "nice": false},
           "axis": {"orient": "right", "values": [0.0128,0.0855,0.219,0.389,0.595,0.815,1.056], "labelExpr": "indexof([0.0128,0.0855,0.219,0.389,0.595,0.815,1.056], datum.value) + 1 + ''", "tickSize": 7, "labelPadding": 13, "labelFontSize": 20, "title": "Average exciton occupancy", "titleFontSize": 20, "titlePadding": 3}}
    }
   },
   {
    "data": {"values": [{"J": 500, "r": 0.1}]},
    "mark": {"type": "point", "opacity": 0},
    "encoding": {
     "x": {"field": "J", "type": "quantitative", "scale": {"domain": [0, 1000], "nice": false, "zero": false}, "axis": null},
     "y": {"field": "r", "type": "quantitative", "scale": {"type": "log", "domain": [0.01, 2], "nice": false},
           "axis": {"orient": "left", "values": [0.02,0.03,0.04,0.05,0.06,0.07,0.08,0.09,0.2,0.3,0.4,0.5,0.6,0.7,0.8,0.9,2], "labels": false, "domain": false, "tickSize": -6, "title": null}}
    }
   }
  ]
 }
 ]
}
]
}
